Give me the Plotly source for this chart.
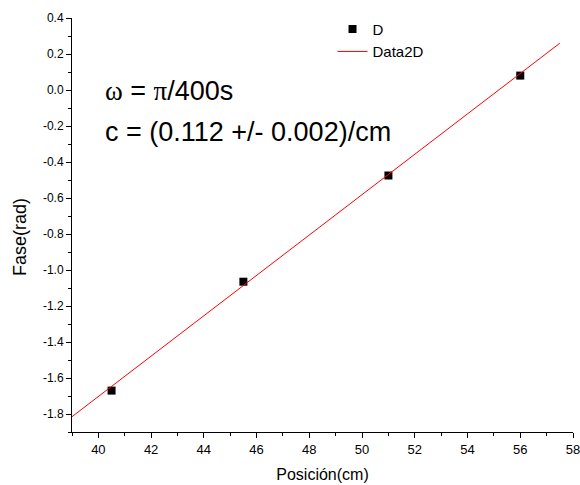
import plotly.graph_objects as go

pos_cm = [40.5, 45.5, 51.0, 56.0]
fase_rad = [-1.67, -1.065, -0.475, 0.08]
fit_x = [39.0, 57.5]
fit_y = [-1.815, 0.26]

xticks = [40, 42, 44, 46, 48, 50, 52, 54, 56, 58]
yticks = [0.4, 0.2, 0.0, -0.2, -0.4, -0.6, -0.8, -1.0, -1.2, -1.4, -1.6, -1.8]
ytick_text = [f"{v:.1f}" for v in yticks]

font = "Liberation Sans, Arial, sans-serif"
serif = "Liberation Serif, Times New Roman, serif"

fig = go.Figure()
fig.add_trace(go.Scatter(x=pos_cm, y=fase_rad, mode="markers", name="D",
                         marker=dict(symbol="square", size=8, color="black")))
fig.add_trace(go.Scatter(x=fit_x, y=fit_y, mode="lines", name="Data2D",
                         line=dict(color="red", width=1)))

fig.update_layout(
    width=580, height=485,
    margin=dict(l=72, r=7, t=18, b=53, autoexpand=False),
    paper_bgcolor="white", plot_bgcolor="white",
    font=dict(family=font, size=12, color="black"),
    legend=dict(x=0.52, y=1.0128, xanchor="left", yanchor="top",
                bgcolor="rgba(0,0,0,0)", font=dict(size=15),
                tracegroupgap=0),
    xaxis=dict(range=[39, 58], showline=True, linecolor="black", linewidth=1,
               ticks="outside", ticklen=5, tickcolor="black",
               tickvals=xticks, showgrid=False, zeroline=False,
               ticklabeloverflow="allow", automargin=False,
               minor=dict(ticks="outside", ticklen=3, dtick=1, tick0=39, tickcolor="black"),
               title=dict(text="Posición(cm)", font=dict(size=16), standoff=13),
               tickfont=dict(size=13)),
    yaxis=dict(range=[-1.9, 0.4], showline=True, linecolor="black", linewidth=1,
               ticks="outside", ticklen=5, tickcolor="black",
               tickvals=yticks, ticktext=ytick_text, showgrid=False, zeroline=False,
               ticklabeloverflow="allow", automargin=False,
               minor=dict(ticks="outside", ticklen=3, dtick=0.1, tick0=0, tickcolor="black"),
               tickfont=dict(size=12)),
)
fig.add_annotation(x=-0.1038, y=0.471, xref="paper", yref="paper", xanchor="center", yanchor="middle",
                   text="Fase(rad)", textangle=-90, showarrow=False, font=dict(size=18, family=font))
fig.add_annotation(x=0.062, y=0.824, xref="paper", yref="paper", xanchor="left", yanchor="middle",
                   text=f"<span style='font-family:{serif}'>ω</span> = <span style='font-family:{serif}'>π</span>/400s",
                   showarrow=False, font=dict(size=27, family=font))
fig.add_annotation(x=0.062, y=0.724, xref="paper", yref="paper", xanchor="left", yanchor="middle",
                   text="c = (0.112 +/- 0.002)/cm", showarrow=False, font=dict(size=27, family=font))

fig.write_html("out.html", config={"displayModeBar": False},
               post_script="document.body.style.margin='0';document.body.style.overflow='hidden';")
